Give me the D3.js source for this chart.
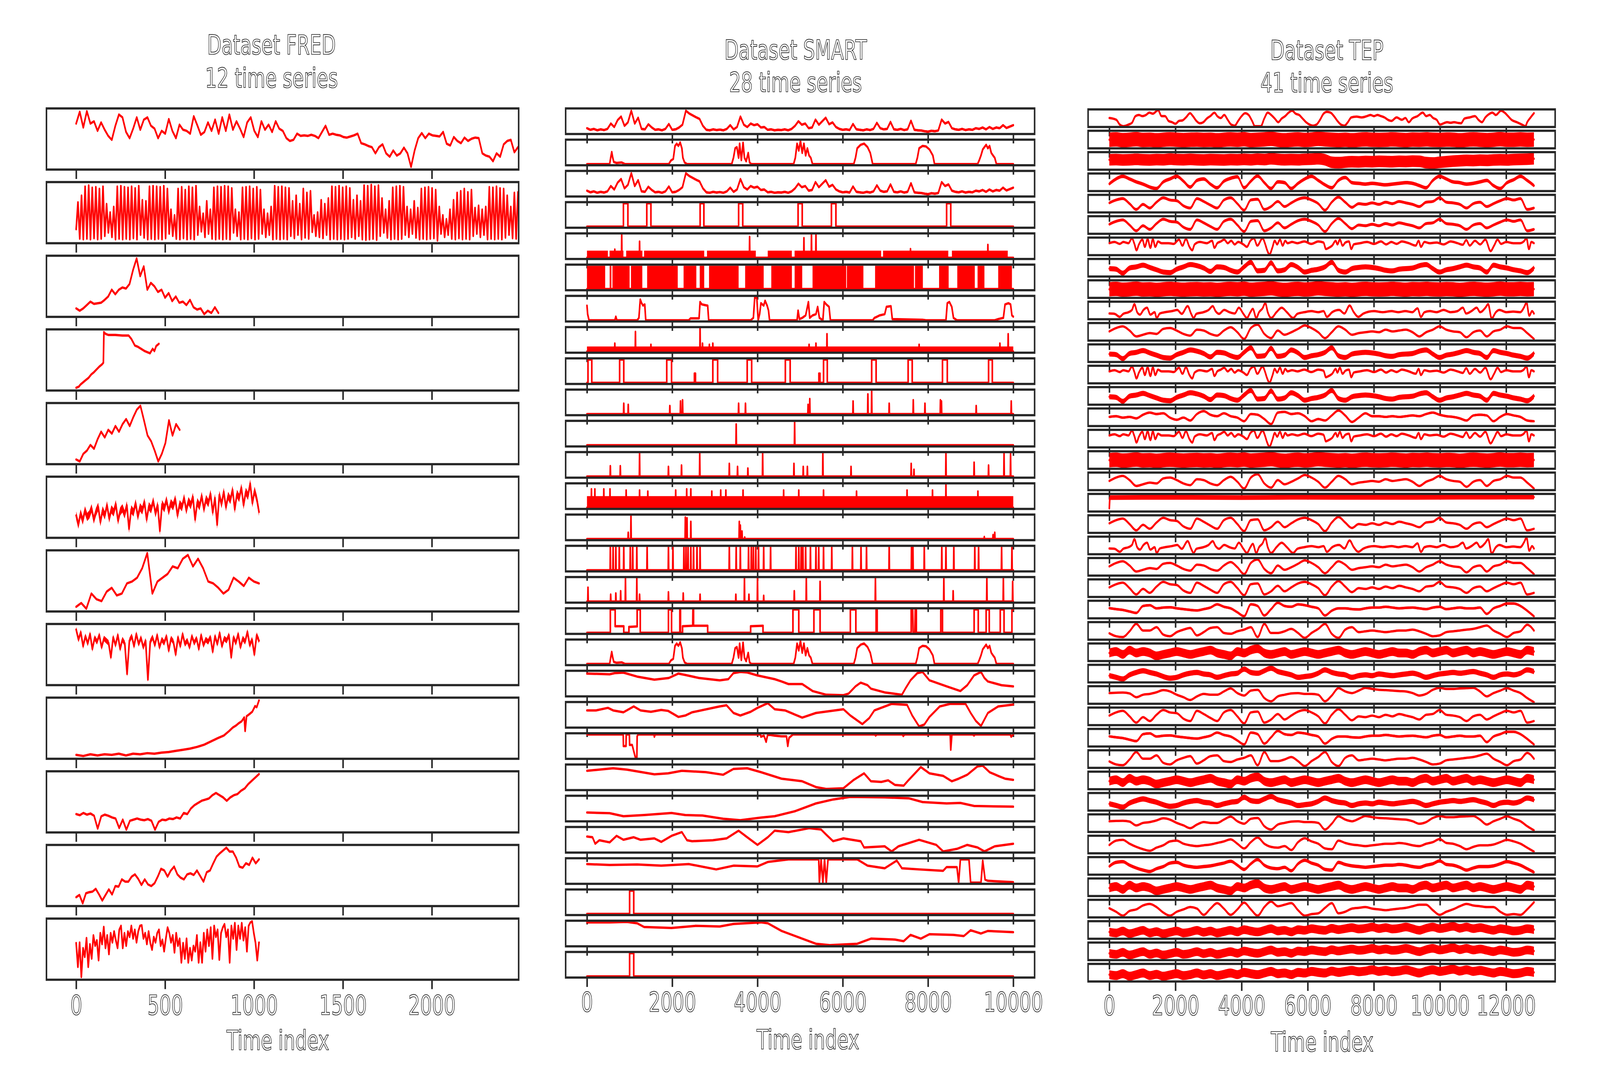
<!DOCTYPE html>
<html>
<head>
<meta charset="utf-8">
<script src="https://cdn.jsdelivr.net/npm/d3@7"></script>
<style>
  html, body { margin: 0; padding: 0; background: #fff; overflow: hidden; width: 100%; height: 100%; }
  #chart { display: block; width: 100vw; height: 100vh; }
</style>
</head>
<body>
<svg id="chart"></svg>
<script>
// ---------- data ----------
var panelNames = ["FRED", "SMART", "TEP"];
var fredTicks = [0, 500, 1000, 1500, 2000];
var smartTicks = [0, 2000, 4000, 6000, 8000, 10000];
var tepTicks = [0, 2000, 4000, 6000, 8000, 10000, 12000];
var fredXLim = [-167, 2488];
var smartXLim = [-500, 10500];
var tepXLim = [-642, 13482];
var smartLength = 10000;
var tepLength = 12840;

// FRED: uniform samples over each series length (or [t, v] pairs)
var fred1 = [77,98,70,99,77,81,64,79,66,55,48,73,93,88,62,51,68,88,66,84,88,73,68,51,64,59,85,64,51,75,
  66,64,59,90,74,57,62,79,64,84,59,88,64,93,66,81,68,53,79,88,64,53,81,66,75,62,81,68,64,51,
  46,48,59,55,56,55,57,55,51,62,73,57,59,57,56,53,52,54,56,59,42,40,37,35,24,35,40,24,18,29,
  20,24,34,24,0,29,51,60,51,59,56,55,54,62,41,38,53,46,42,52,46,50,52,51,24,20,18,10,24,18,
  40,46,48,26,35];
var fred2 = [20,68,3,80,2,96,3,98,2,94,4,95,2,92,3,96,8,65,14,50,6,60,2,96,3,97,2,95,3,94,2,96,4,93,2,97,
  10,72,5,70,2,96,3,97,2,96,3,95,2,97,4,92,12,55,8,45,3,92,2,95,4,90,2,96,3,94,2,97,10,60,16,48,
  6,70,12,55,3,94,2,96,3,95,2,97,3,96,2,93,14,55,8,50,2,94,3,95,2,96,4,92,2,95,3,90,12,55,6,48,
  10,60,2,97,3,95,2,96,3,94,2,93,8,70,4,80,10,65,2,92,5,85,3,88,15,45,8,50,6,72,4,65,10,75,2,96,
  3,95,2,97,3,94,2,96,3,93,6,72,3,80,8,70,2,98,1,97,2,99,3,96,1,98,8,75,14,55,5,70,2,94,3,96,
  2,97,3,95,10,60,6,55,12,70,5,58,2,92,3,94,2,95,3,93,4,90,0,60,12,45,6,38,10,55,3,72,2,85,
  4,88,2,92,3,86,2,90,8,58,12,62,6,55,10,60,2,95,3,94,2,96,3,93,2,92,5,80,10,60,4,85,3,86];
var fred3 = [12,8,12,18,24,20,21,22,27,33,45,37,45,49,47,55,80,100,69,86,45,57,51,41,45,31,39,25,33,22,
  24,18,27,14,10,12,2,8,4,14,4];
var fred4 = [[0,0],[15,2],[25,6],[40,10],[55,14],[70,18],[85,24],[100,28],[115,33],[130,38],[145,42],
  [153,45],[156,100],[165,97],[180,95],[220,95],[260,94],[295,94],[310,88],[330,76],[345,74],[365,70],
  [385,66],[400,64],[415,62],[430,70],[440,66],[450,75],[465,79]];
var fred5 = [12,9,21,26,35,29,44,56,47,59,53,65,56,68,76,65,79,91,97,74,50,41,26,9,21,38,74,50,68,59];
var fred6 = [38,20,42,28,48,35,40,52,30,45,55,25,48,38,58,32,50,44,60,28,46,52,40,58,12,50,44,62,36,54,
  48,64,30,56,50,66,42,58,8,60,52,68,46,62,56,70,38,60,54,72,48,66,58,74,30,64,56,76,50,70,
  62,80,44,72,20,78,60,84,54,76,68,88,50,80,72,92,58,84,76,100,62,86,70,45];
var fred7 = [15,21,12,36,27,24,39,45,33,36,52,55,61,76,100,36,55,61,67,79,76,91,97,79,91,76,55,52,45,36,
  42,61,55,48,61,55,52];
var fred8 = [90,72,85,60,78,65,82,55,75,68,80,58,74,70,66,40,76,62,80,55,72,65,10,70,78,60,82,64,75,58,
  70,0,68,76,62,80,58,72,66,78,52,74,68,45,76,60,82,64,70,58,78,66,74,55,80,62,72,68,76,50,
  78,64,84,60,74,70,80,40,76,66,82,58,74,68,86,62,72,45,80,70];
var fred9 = [[0,4],[40,2],[80,5],[120,3],[160,5],[200,4],[240,6],[280,3],[320,6],[360,5],[400,7],[440,6],
  [480,8],[520,9],[560,11],[600,13],[640,15],[680,18],[720,22],[760,28],[800,34],[830,38],[860,46],
  [880,52],[900,56],[915,60],[930,63],[945,70],[950,46],[958,72],[975,76],[990,80],[1006,90],[1015,88],[1028,100]];
var fred10 = [28,26,30,27,29,25,2,24,27,25,22,20,3,18,0,16,18,20,18,17,19,16,0,14,18,17,20,19,22,20,
  30,28,38,44,48,52,54,56,62,66,62,58,52,58,62,64,70,74,82,88,94,100];
var fred11 = [11,15,0,18,20,21,26,16,5,15,25,16,31,30,43,39,39,48,52,44,33,43,34,31,36,48,62,59,48,59,
  66,52,46,43,52,54,51,59,49,39,56,59,72,84,90,95,100,93,93,82,66,64,72,69,82,72,79];
var fred12 = [61,18,62,0,52,36,70,18,59,33,75,56,66,30,79,59,90,52,75,41,79,62,82,66,52,85,92,52,79,56,
  82,72,92,69,85,62,82,92,93,69,79,59,82,61,49,72,62,79,85,56,67,46,69,89,79,62,75,44,79,56,
  69,26,61,33,69,26,52,30,56,46,75,26,62,26,79,46,85,56,89,33,92,72,85,31,79,89,95,72,85,26,
  92,69,97,49,92,69,97,66,89,46,92,98,100,79,61,30,62];
var fredSeries = [fred1, fred2, fred3, fred4, fred5, fred6, fred7, fred8, fred9, fred10, fred11, fred12];
var fredLength = [2484, 2484, 800, 465, 582, 1028, 1028, 1028, 1028, 1028, 1028, 1028];
var fredNoise = [0, 0, 0, 0, 0, 8, 0, 5, 0, 0, 0, 0];

// SMART
var smart1 = [25,18,22,16,20,17,22,45,30,60,75,35,50,100,45,70,22,20,42,28,18,20,16,22,43,18,20,28,40,100,
  88,80,72,65,35,18,16,20,17,19,16,22,38,20,30,75,40,30,45,38,42,28,30,18,20,16,18,17,20,16,
  22,35,55,40,45,25,28,62,40,55,70,42,50,30,22,18,20,17,43,20,18,16,20,17,22,48,25,20,22,52,
  20,18,22,17,20,57,18,16,15,12,10,14,12,15,62,45,52,25,20,18,22,17,20,18,25,22,28,20,30,22,
  28,25,38,26,32,38];
var smart2 = [[0,0],[532,0],[556,0.27],[581,0.52],[605,0.27],[629,0.09],[694,0.05],[815,0.07],[895,0],
  [1919,0],[1968,0.15],[2024,0.22],[2065,0.78],[2105,0.88],[2145,0.78],[2186,0.93],[2226,0.68],[2250,0.27],
  [2290,0.07],[2347,0],[3395,0],[3436,0.27],[3476,0.68],[3516,0.73],[3557,0.27],[3581,0.88],[3621,0.17],
  [3661,0.92],[3694,0.27],[3734,0.12],[3782,0.48],[3815,0.07],[3855,0],[4847,0],[4887,0.27],[4928,0.88],
  [4968,0.58],[5008,1],[5049,0.48],[5089,0.88],[5129,0.37],[5170,0.68],[5210,0.37],[5250,0.27],[5291,0],
  [6258,0],[6299,0.27],[6339,0.68],[6420,0.83],[6500,0.88],[6581,0.73],[6645,0.48],[6702,0],[7710,0],
  [7750,0.27],[7791,0.68],[7871,0.78],[7952,0.76],[8033,0.63],[8113,0.37],[8153,0],[9162,0],[9202,0.17],
  [9242,0.37],[9283,0.63],[9323,0.73],[9363,0.83],[9404,0.68],[9444,0.78],[9484,0.48],[9525,0.37],
  [9565,0.27],[9605,0],[10000,0]];
var smart4 = [[855,960,1],[1403,1500,1],[2654,2742,1],[3557,3654,1],[4952,5049,1],[5734,5839,1],[8436,8533,1]];
var smart5Blocks = [[0,490],[530,855],[920,1300],[1340,2750],[2815,3960],[4240,4805],[4870,6900],[6945,8475],[8560,9870]];
var smart5Spikes = [[653,0.36],[815,1],[1234,0.7],[3815,0.9],[5089,0.85],[5266,1],[5371,1],[7589,0.38],[9404,0.56]];
var smart6Blocks = [[0,427],[532,573],[597,1000],[1032,1298],[1411,2129],[2266,2565],[2645,2750],[2863,3557],
  [3710,4145],[4323,4807],[4871,5049],[5291,6081],[6097,6484],[6758,7670],[7694,7879],[8259,8484],
  [8686,9097],[9162,9323],[9646,9968]];
var smart7 = [[0,0.65],[16,0.3],[48,0.05],[653,0.05],[677,0.2],[702,0.05],[1177,0.05],[1218,0.15],[1250,0.9],
  [1282,0.75],[1315,0.65],[1355,0.7],[1379,0.05],[2387,0.05],[2428,0.13],[2629,0.13],[2653,0.8],[2694,0.7],
  [2774,0.67],[2831,0.65],[2855,0.05],[3839,0.05],[3903,0.15],[3936,1],[3984,0.95],[4016,0.05],[4049,0.3],
  [4081,0.75],[4145,0.65],[4178,0.85],[4226,0.65],[4258,0.45],[4283,0.05],[4928,0.05],[4952,0.45],[4984,0.1],
  [5049,0.15],[5129,0.25],[5194,0.8],[5226,0.15],[5291,0.25],[5371,0.3],[5411,0.6],[5452,0.15],[5533,0.05],
  [5565,0.8],[5613,0.7],[5678,0.6],[5710,0.05],[6702,0.05],[6742,0.15],[6807,0.2],[6863,0.25],[6984,0.3],
  [7025,0.6],[7129,0.63],[7162,0.1],[7871,0.07],[7952,0.05],[8420,0.05],[8452,0.75],[8500,0.8],[8557,0.6],
  [8597,0.15],[8678,0.05],[9565,0.05],[9646,0.1],[9767,0.15],[9807,0.7],[9888,0.75],[9936,0.7],[9968,0.25],[10000,0.2]];
var smart8Spikes = [[653,0.35],[1137,0.85],[1500,0.3],[2653,1],[2710,0.35],[2871,0.3],[2952,0.35],[5210,0.3],
  [5371,0.35],[5630,0.75],[7791,0.3],[9686,0.35],[9880,0.75]];
var smart9 = [[24,113,1],[766,863,1],[1871,1984,1],[2520,2545,0.4],[2952,3065,1],[3758,3863,1],[4653,4766,1],
  [5440,5465,0.4],[5549,5637,1],[6678,6782,1],[7533,7629,1],[8339,8452,1],[9420,9508,1]];
var smart10 = [[863,0.45],[968,0.4],[1944,0.35],[2194,0.55],[2242,0.6],[3557,0.45],[3718,0.45],[5186,0.4],
  [5226,0.65],[6242,0.55],[6589,0.85],[6678,1],[7089,0.45],[7654,0.6],[7928,0.45],[8291,0.6],[8315,0.55],
  [9130,0.35],[9952,0.55]];
var smart11 = [[3500,0.9],[4871,1]];
var smart12 = [[548,0.45],[782,0.45],[1234,1],[1911,0.42],[2218,0.48],[2645,1],[3339,0.55],[3532,0.42],
  [3774,0.35],[4121,1],[4855,0.55],[5073,0.42],[5170,0.42],[5533,1],[6194,0.42],[7605,0.55],[7670,0.3],
  [8420,1],[9081,0.6],[9420,0.48],[9783,1],[9936,1]];
var smart13Spikes = [[105,0.8],[185,0.8],[395,0.8],[540,0.8],[919,0.75],[1234,0.75],[1427,0.7],[2081,0.75],
  [2339,0.8],[2436,0.8],[2928,0.7],[3137,0.75],[3258,0.75],[3661,0.75],[4613,0.75],[4968,0.75],[5549,0.75],
  [6323,0.7],[7508,0.75],[8105,0.75],[8420,1],[9170,0.7]];
var smart14 = [[968,0.3],[1032,1],[2307,0.93],[2347,0.9],[2436,0.75],[3573,0.75],[3597,0.6],[3637,0.35],
  [3700,0.1],[9320,0.12],[9525,0.2],[9565,0.3]];
var smart15 = [[548,1],[613,1],[677,1],[758,1],[863,1],[1016,1],[1073,1],[1169,1],[1411,1],[1911,1],[2016,1],
  [2274,1],[2323,1],[2371,1],[2436,1],[2500,1],[2581,1],[2653,1],[3339,1],[3500,1],[3597,1],[3790,1],
  [3855,1],[3903,1],[3960,1],[4024,1],[4145,1],[4307,1],[4903,1],[4968,1],[5024,1],[5065,1],[5129,1],
  [5242,1],[5371,1],[5436,1],[5549,1],[5742,1],[6226,1],[6428,1],[6557,1],[7089,1],[7613,1],[7646,1],
  [7912,1],[8323,1],[8420,1],[8605,1],[9097,1],[9186,1],[9726,1],[9968,1]];
var smart16 = [[24,0.6],[556,0.3],[677,0.35],[790,0.45],[903,1],[1169,1],[1234,0.3],[1911,0.4],[2258,0.35],
  [2653,0.3],[3492,0.3],[3694,1],[3799,0.3],[4000,1],[4145,0.25],[4863,0.45],[5145,1],[5468,0.85],[6766,1],
  [8371,1],[8589,0.45],[9380,1],[9767,1],[9985,0.85]];
var smart17 = [[0,0],[548,0],[548,1],[661,1],[661,0.28],[863,0.28],[863,0],[984,0],[984,0.25],[1177,0.27],
  [1177,1],[1250,1],[1250,0],[1911,0],[1911,1],[1984,1],[1984,0],[2178,0],[2178,1],[2194,1],[2194,0],
  [2242,0],[2242,0.28],[2480,0.3],[2485,1],[2500,1],[2500,0.3],[2831,0.3],[2831,0],[3839,0],[3839,0.28],
  [4129,0.3],[4129,0],[4831,0],[4831,1],[4968,1],[4968,0],[5323,0],[5323,1],[5468,1],[5468,0],[6178,0],
  [6178,1],[6307,1],[6307,0],[6782,0],[6782,1],[6807,1],[6807,0],[7605,0],[7605,1],[7640,1],[7650,0],
  [7690,0],[7700,1],[7726,1],[7726,0],[8299,0],[8299,1],[8339,1],[8339,0],[9081,0],[9081,1],[9178,1],
  [9178,0],[9363,0],[9363,1],[9436,1],[9436,0],[9694,0],[9694,1],[9783,1],[9783,0],[9968,0],[9968,1],[10000,1]];
var smart19 = [[0,0.93],[532,0.9],[653,0.95],[855,0.97],[1177,0.8],[1581,0.67],[1919,0.74],[2145,0.93],
  [2307,0.87],[2629,0.74],[3113,0.64],[3315,0.69],[3436,0.95],[3597,1],[3758,0.98],[4000,0.85],[4403,0.69],
  [4565,0.59],[4726,0.48],[5049,0.48],[5291,0.18],[5613,0.02],[6016,0],[6137,0.07],[6299,0.38],[6420,0.54],
  [6581,0.43],[6662,0.28],[6984,0.12],[7387,0.02],[7484,0.33],[7589,0.64],[7750,0.95],[7871,1],[8033,0.64],
  [8436,0.38],[8759,0.18],[8920,0.43],[9081,0.85],[9242,1],[9323,0.74],[9404,0.59],[9726,0.43],[10000,0.38]];
var smart20 = [[0,0.69],[210,0.69],[492,0.8],[613,0.69],[855,0.61],[1097,0.86],[1258,0.69],[1500,0.63],
  [1742,0.71],[1903,0.67],[2145,0.41],[2307,0.47],[2468,0.61],[3113,0.86],[3274,0.91],[3436,0.58],[3597,0.47],
  [3839,0.63],[4000,0.8],[4242,1],[4403,0.74],[4645,0.69],[5049,0.38],[5371,0.58],[6016,0.74],[6178,0.47],
  [6460,0.1],[6621,0.36],[6742,0.69],[7146,0.97],[7508,0.93],[7629,0.47],[7791,0],[7912,0.08],[8033,0.41],
  [8275,0.86],[8517,0.97],[8880,0.97],[9000,0.58],[9121,0.24],[9242,0.02],[9404,0.58],[9646,0.86],[10000,0.94]];
var smart21 = [[0,1],[850,1],[855,0.5],[915,0.5],[920,1],[995,1],[1000,0.55],[1060,0.55],[1097,0.28],[1137,0],
  [1170,0],[1177,0.92],[1200,1],[1570,1],[1581,0.9],[1600,1],[4070,1],[4081,0.9],[4150,0.95],[4202,0.68],
  [4240,1],[4400,0.95],[4560,0.92],[4680,0.92],[4710,0.5],[4740,0.85],[4800,0.95],[4830,1],[6750,1],
  [6770,0.95],[6800,1],[7400,1],[7420,0.93],[7450,1],[8520,1],[8533,0.34],[8560,1],[9050,1],[9080,0.95],
  [9100,1],[9930,1],[9950,0.9],[10000,1]];
var smart22 = [[0,0.78],[613,0.89],[935,0.83],[1581,0.63],[1903,0.67],[2226,0.78],[2790,0.72],[3194,0.61],
  [3436,0.86],[3758,0.89],[4081,0.72],[4565,0.44],[5049,0.33],[5371,0.08],[5613,0],[6016,0.03],[6258,0.39],
  [6500,0.67],[6662,0.33],[6904,0.3],[7065,0.37],[7226,0.17],[7428,0.14],[7549,0.39],[7831,0.94],[8033,0.67],
  [8355,0.56],[8557,0.33],[8718,0.44],[8920,0.61],[9162,0.97],[9283,1],[9444,0.72],[9646,0.56],[9807,0.44],[10000,0.39]];
var smart23 = [[0,0.33],[532,0.3],[855,0.17],[1339,0.22],[1984,0.31],[2307,0.22],[2710,0.2],[3194,0.06],
  [3597,0],[4081,0.11],[4403,0.17],[4887,0.39],[5371,0.72],[5774,0.89],[6178,1],[6984,0.98],[7549,0.94],
  [7871,0.78],[8436,0.72],[8759,0.74],[9081,0.61],[10000,0.58]];
var smart24 = [[0,0.64],[129,0.61],[194,0.33],[290,0.48],[532,0.39],[694,0.67],[855,0.5],[1097,0.61],
  [1258,0.5],[1581,0.56],[1742,0.41],[1984,0.67],[2226,0.83],[2347,0.48],[2468,0.44],[2952,0.48],[3274,0.56],
  [3557,0.89],[3758,0.61],[4000,0.28],[4242,0.61],[4403,0.89],[4726,0.83],[5049,0.94],[5210,1],[5492,0.94],
  [5613,0.72],[5774,0.44],[6016,0.56],[6420,0.44],[6500,0.17],[6984,0.22],[7146,0],[7307,0.22],[7791,0.5],
  [8194,0.28],[8355,0],[8678,0.11],[8920,0.28],[9162,0.17],[9323,0],[9565,0.22],[10000,0.33]];
var smart25 = [[0,0.8],[532,0.76],[1177,0.78],[1742,0.73],[2387,0.8],[3032,0.57],[3436,0.73],[4000,0.7],
  [4242,0.89],[4726,1],[5436,1],[5452,0],[5492,1],[5533,0],[5573,1],[5613,0],[5654,1],[6339,1],[6581,0.73],
  [6984,0.62],[7267,0.95],[7387,0.62],[7791,0.57],[8355,0.51],[8436,0.67],[8678,0.67],[8718,0],[8759,1],
  [8960,1],[9000,0],[9242,0],[9283,0.95],[9339,0.13],[9404,0.08],[10000,0.02]];
var smart26 = [[1000,1097,1]];
var smart27 = [[0,0.98],[532,0.98],[935,1],[1177,0.94],[1339,0.78],[1984,0.74],[2549,0.83],[3113,0.8],
  [3436,0.91],[4081,0.98],[4242,0.94],[4565,0.61],[5049,0.28],[5371,0.06],[5694,0],[6339,0.06],[6662,0.28],
  [7226,0.24],[7428,0.17],[7589,0.44],[7831,0.28],[8033,0.47],[8597,0.44],[8839,0.39],[9000,0.64],[9242,0.5],
  [9404,0.61],[10000,0.56]];

var smartRows = [
  {v: smart1, w: 5}, {p: smart2}, {v: smart1, w: 5}, {pulses: smart4},
  {blocks: smart5Blocks, lo: 0, hi: 0.31, spikes: smart5Spikes},
  {blocks: smart6Blocks, lo: 0, hi: 1, spikes: []},
  {p: smart7},
  {blocks: [[0, 10000]], lo: 0.03, hi: 0.22, spikes: smart8Spikes},
  {pulses: smart9}, {spikes: smart10}, {spikes: smart11}, {spikes: smart12},
  {blocks: [[0, 10000]], lo: 0, hi: 0.5, spikes: smart13Spikes},
  {spikes: smart14, base: 0.03}, {spikes: smart15}, {spikes: smart16},
  {p: smart17}, {p: smart2}, {p: smart19}, {p: smart20}, {p: smart21}, {p: smart22},
  {p: smart23}, {p: smart24}, {p: smart25}, {pulses: smart26}, {p: smart27}, {pulses: smart26}
];

// TEP: shapes (pairs or 64 uniform samples) and the half-thickness of the noise band
var tepA = [[0,0.51],[211,0.4],[316,0.1],[421,0],[579,0.1],[684,0.21],[790,0.63],[895,0.7],[1000,0.63],[1106,0.7],
  [1211,0.85],[1316,0.78],[1474,1],[1580,0.63],[1685,0.63],[1790,0.33],[1895,0.25],[2001,0.15],[2106,0.33],
  [2211,0.36],[2317,0.55],[2443,0.81],[2527,0.63],[2633,0.33],[2738,0.18],[2843,0.25],[2948,0.48],[3054,0.63],
  [3180,0.84],[3264,0.63],[3370,0.51],[3475,0.7],[3580,0.4],[3686,0.1],[3791,0.03],[3896,0.33],[4001,0.63],
  [4107,0.81],[4212,0.7],[4317,0.33],[4402,0],[4581,0],[4686,0.48],[4791,0.85],[4896,0.7],[5002,0.48],
  [5107,0.25],[5212,0.48],[5318,0.63],[5423,0.85],[5528,0.97],[5634,0.78],[5739,0.7],[5844,0.48],[5949,0.25],
  [6055,0.1],[6160,0.03],[6265,0.1],[6371,0.4],[6476,0.78],[6581,0.9],[6687,0.85],[6792,0.63],[6897,0.33],
  [7002,0.1],[7108,0.03],[7213,0.25],[7318,0.55],[7476,0.6],[7634,0.55],[7792,0.63],[7898,0.7],[8003,0.63],
  [8108,0.7],[8213,0.63],[8319,0.55],[8424,0.4],[8529,0.33],[8687,0.55],[8845,0.4],[8951,0.51],[9056,0.25],
  [9161,0.48],[9319,0.63],[9477,0.85],[9582,0.63],[9688,0.7],[9793,0.51],[9898,0.4],[10004,0.1],[10109,0.18],
  [10214,0.25],[10319,0.21],[10425,0.25],[10530,0.21],[10635,0.18],[10741,0.48],[10899,0.55],[11057,0.63],
  [11162,0.4],[11267,0.25],[11372,0.55],[11478,0.75],[11583,0.85],[11688,0.7],[11846,0.97],[11952,0.85],
  [12057,0.63],[12162,0.4],[12320,0.25],[12478,0.1],[12583,0],[12636,0.25],[12741,0.55],[12840,0.81]];
var tepQ = [[0,0.65],[158,0.72],[316,0.61],[421,0.72],[579,0.65],[684,0.93],[758,0.61],[821,0.24],[895,0.58],
  [1000,0.86],[1074,0.44],[1158,0.89],[1243,0.38],[1316,0.89],[1390,0.44],[1474,0.75],[1580,0.65],[1790,0.65],
  [1948,0.61],[2106,0.86],[2211,0.51],[2317,0.89],[2422,0.44],[2506,0.24],[2580,0.58],[2738,0.72],[2948,0.65],
  [3106,0.79],[3180,0.38],[3264,0.65],[3370,0.75],[3475,0.86],[3580,0.65],[3686,0.79],[3791,0.58],[3896,0.72],
  [4054,0.58],[4159,0.44],[4265,0.79],[4370,0.93],[4475,0.51],[4633,0.93],[4717,0.58],[4760,0.31],[4844,0],
  [4928,0.38],[5002,0.79],[5075,0.58],[5160,0.86],[5244,0.51],[5318,0.79],[5391,0.65],[5528,0.72],[5686,0.65],
  [5897,0.75],[6107,0.61],[6318,0.75],[6476,0.69],[6550,0.31],[6634,0.38],[6739,0.51],[6845,0.79],[6897,0.58],
  [6971,0.86],[7055,0.51],[7139,0.69],[7245,0.75],[7318,0.31],[7392,0.58],[7582,0.65],[7792,0.72],[8003,0.61],
  [8213,0.75],[8371,0.58],[8529,0.72],[8687,0.61],[8845,0.75],[9056,0.65],[9266,0.51],[9351,0.79],[9424,0.44],
  [9530,0.72],[9688,0.65],[9898,0.69],[10109,0.58],[10319,0.75],[10530,0.65],[10688,0.56],[10793,0.83],
  [10899,0.51],[11057,0.79],[11214,0.58],[11372,0.86],[11530,0.19],[11636,0.51],[11741,0.86],[11846,0.61],
  [12004,0.72],[12215,0.65],[12425,0.65],[12531,0.75],[12615,0.93],[12689,0.31],[12762,0.72],[12840,0.65]];
var tepR = [[0,0.31],[158,0.29],[316,0.1],[421,0.29],[579,0.39],[684,0.53],[758,0.89],[842,0.39],[927,0.24],
  [1032,0.53],[1137,0.67],[1243,0.24],[1369,0.39],[1432,0.03],[1527,0.31],[1685,0.39],[1895,0.46],[2053,0.53],
  [2190,0.29],[2369,0.77],[2475,0.29],[2548,0.03],[2633,0.29],[2843,0.39],[3001,0.53],[3127,0.77],[3212,0.46],
  [3317,0.29],[3475,0.53],[3633,0.39],[3791,0.31],[3917,0.67],[4054,0.29],[4159,0.03],[4265,0.39],[4338,0.6],
  [4444,0.03],[4528,0.39],[4633,0.63],[4717,0.96],[4791,0.39],[4896,0.03],[5054,0.39],[5212,0.67],[5370,0.39],
  [5560,0.03],[5686,0.29],[5897,0.39],[6107,0.46],[6318,0.39],[6476,0.46],[6581,0.1],[6739,0.39],[6950,0.53],
  [7108,0.31],[7266,0.81],[7392,0.39],[7529,0.1],[7687,0.31],[8003,0.46],[8266,0.39],[8529,0.46],[8740,0.39],
  [8951,0.46],[9161,0.39],[9319,0.63],[9424,0.1],[9530,0.39],[9688,0.46],[9898,0.39],[10109,0.53],[10319,0.39],
  [10530,0.46],[10688,0.67],[10793,0.31],[10951,0.46],[11109,0.67],[11214,0.39],[11372,0.67],[11456,0.89],
  [11562,0],[11688,0.39],[11794,0.53],[12004,0.39],[12215,0.43],[12425,0.39],[12552,0.74],[12615,1],[12699,0.17],
  [12783,0.46],[12840,0.31]];
var tepF = [[0,0.15],[20,0.84],[2000,0.85],[4000,0.84],[6000,0.86],[8000,0.85],[10000,0.86],[12840,0.87]];
var tepP = [0.55,0.75,0.85,0.5,0.1,0.45,0.2,0.6,0.9,0.75,0.7,0.35,0.2,0.85,0.65,0.4,
  0.2,0.75,0.9,0.5,0.05,0.75,0.8,0.1,0.3,0.65,0.3,0.55,0.8,0.9,0.75,0.5,
  0.05,0.6,0.95,0.6,0.25,0.5,0.45,0.55,0.45,0.6,0.5,0.65,0.55,0.45,0.3,0.6,
  0.65,0.9,0.6,0.55,0.45,0.2,0.5,0.6,0.3,0.5,0.7,0.85,0.75,0.85,0.1,0.2];
var tepS = [0.5,0.7,0.8,0.55,0.2,0.3,0.4,0.35,0.65,0.7,0.55,0.35,0.25,0.6,0.55,0.35,
  0.25,0.55,0.75,0.45,0.05,0.7,0.9,0.35,0.1,0.55,0.3,0.45,0.65,0.85,0.7,0.45,
  0.1,0.45,0.8,0.6,0.3,0.4,0.45,0.5,0.45,0.6,0.5,0.55,0.6,0.45,0.2,0.45,
  0.6,0.8,0.6,0.5,0.45,0.15,0.45,0.55,0.2,0.5,0.6,0.8,0.7,0.7,0.4,0.05];
var tepB = [0.37,0.7,0.88,0.7,0.5,0.35,0.15,0.05,0.5,0.7,0.88,0.55,0.15,0.6,0.7,0.35,
  0.1,0.55,0.75,0.85,0.1,0.55,0.9,0.45,0.05,0.5,0.45,0.05,0.4,0.7,0.88,0.6,
  0.3,0.1,0.6,0.8,0.45,0.4,0.35,0.4,0.35,0.3,0.35,0.4,0.45,0.4,0.25,0.1,
  0.6,0.88,0.7,0.5,0.45,0.35,0.4,0.5,0.6,0.25,0.05,0.45,0.65,0.88,0.6,0.25];
var tepBT = [0.45,0.4,0.05,0.5,0.6,0.75,0.55,0.35,0.15,0.1,0.4,0.6,0.8,0.7,0.5,0.2,
  0.6,0.55,0.3,0.15,0.6,1,0.25,0.3,0.95,0.25,0.35,0.8,0.55,0.15,0.3,0.4,
  0.6,1,0.3,0.15,0.45,0.55,0.6,0.55,0.45,0.3,0.25,0.4,0.45,0.5,0.7,0.8,
  0.45,0.15,0.35,0.45,0.6,0.75,0.6,0.5,0.15,0.75,0.6,0.5,0.35,0.25,0.1,0.5];
var tepT = [0.5,0.55,0.45,0.5,0.4,0.65,0.8,0.7,0.75,0.45,0.3,0.45,0.25,0.7,0.9,0.65,
  0.55,0.75,0.55,0.45,0.2,0.7,0.65,0.35,0,0.8,0.85,0.7,0.75,0.55,0.2,0.35,
  0.25,0.6,0.95,0.6,0.15,0.45,0.75,0.55,0.55,0.5,0.55,0.5,0.55,0.6,0.55,0.7,
  0.8,0.65,0.55,0.5,0.4,0.25,0.6,0.65,0.6,0.2,0.5,0.7,0.6,0.5,0.25,0.2];
var tepT2 = [0.42,0.7,0.75,0.5,0.3,0.15,0.05,0.25,0.4,0.65,0.7,0.5,0.4,0.35,0.4,0.45,
  0.55,0.65,0.78,0.5,0.2,0.6,0.9,0.5,0.3,0.25,0.35,0.1,0.6,0.85,0.65,0.5,
  0.2,0.15,0.7,0.55,0.45,0.4,0.35,0.4,0.45,0.5,0.5,0.55,0.5,0.4,0.35,0.5,
  0.6,0.8,0.55,0.5,0.35,0.15,0.3,0.4,0.4,0.45,0.6,0.75,0.65,0.5,0.25,0];
var tepU = [0.56,0.5,0.45,0.35,0.26,0.7,0.75,0.55,0.6,0.62,0.55,0.5,0.45,0.42,0.5,0.6,
  0.8,0.65,0.55,0.3,0.05,0.8,0.7,0.1,0.5,0.9,0.7,0.65,0.8,0.75,0.65,0.55,
  0.1,0.4,0.55,0.55,0.5,0.48,0.55,0.6,0.6,0.65,0.6,0.55,0.58,0.6,0.55,0.5,
  0.6,0.65,0.5,0.55,0.6,0.55,0.55,0.6,0.2,0.55,0.7,0.85,0.85,0.7,0.4,0.05];
var tepV = [0.33,0.15,0.1,0.45,0.9,0.5,0.5,0.7,0.25,0.15,0.4,0.55,0.65,0.2,0.4,0.65,
  0.7,0.35,0.3,0.45,0.55,0.7,0.1,0.9,0.35,0.35,0.45,0.6,0.35,0.05,0.35,0.6,
  0.9,0.3,0.05,0.55,0.7,0.4,0.45,0.5,0.45,0.4,0.45,0.5,0.5,0.55,0.45,0.3,
  0.15,0.2,0.4,0.45,0.5,0.55,0.6,0.7,0.8,0.5,0.3,0.1,0.35,0.45,0.85,0.5];
var tepG = [0.52,0.3,0.05,0.35,0.45,0.7,0.8,0.6,0.25,0.05,0.3,0.45,0.6,0.5,0.1,0.5,
  0.85,0.5,0.1,0.45,0.88,0.45,0.05,0.6,0.95,0.65,0.75,0.85,0.4,0.05,0.15,0.2,
  0.55,0.85,0.2,0.3,0.5,0.55,0.6,0.5,0.45,0.4,0.45,0.5,0.55,0.65,0.75,0.75,
  0.4,0.1,0.3,0.45,0.65,0.8,0.7,0.65,0.6,0.6,0.3,0.1,0.15,0.1,0.45,0.9];
var tepY = [0.6,0.62,0.63,0.58,0.35,0.5,0.55,0.65,0.78,0.7,0.5,0.35,0.18,0.4,0.55,0.5,
  0.5,0.7,0.88,0.6,0.45,0.75,0.8,0.3,0.1,0.4,0.5,0.58,0.6,0.55,0.55,0.5,
  0.1,0.45,0.9,0.7,0.6,0.75,0.92,0.85,0.8,0.78,0.75,0.72,0.7,0.6,0.45,0.55,
  0.8,0.92,0.85,0.85,0.88,0.9,0.92,0.7,0.4,0.6,0.75,0.9,0.75,0.6,0.3,0.05];
var tepX = [0.4,0.3,0.2,0.45,0.6,0.7,0.6,0.5,0.35,0.25,0.3,0.45,0.55,0.6,0.5,0.45,
  0.3,0.4,0.5,0.55,0.8,0.6,0.55,0.7,0.85,0.65,0.55,0.45,0.3,0.35,0.4,0.55,
  0.75,0.6,0.5,0.45,0.3,0.4,0.45,0.4,0.5,0.45,0.4,0.45,0.5,0.55,0.45,0.3,
  0.4,0.5,0.55,0.6,0.55,0.6,0.65,0.55,0.45,0.3,0.45,0.5,0.45,0.55,0.75,0.65];
var tepZ1 = [0.5,0.55,0.45,0.6,0.5,0.55,0.5,0.4,0.45,0.5,0.55,0.5,0.45,0.5,0.55,0.6,
  0.5,0.45,0.4,0.55,0.5,0.6,0.65,0.5,0.45,0.5,0.55,0.45,0.5,0.55,0.5,0.45,
  0.5,0.55,0.6,0.5,0.45,0.5,0.55,0.5,0.45,0.5,0.55,0.5,0.5,0.45,0.55,0.6,
  0.5,0.55,0.6,0.5,0.55,0.6,0.5,0.55,0.5,0.45,0.5,0.55,0.5,0.45,0.6,0.55];
var tepZ2 = [0.45,0.42,0.48,0.4,0.45,0.5,0.42,0.46,0.4,0.44,0.48,0.42,0.45,0.5,0.44,0.48,
  0.42,0.46,0.5,0.45,0.52,0.48,0.45,0.5,0.55,0.48,0.5,0.45,0.52,0.5,0.55,0.52,
  0.5,0.56,0.52,0.55,0.58,0.54,0.56,0.6,0.55,0.58,0.54,0.56,0.6,0.55,0.5,0.56,
  0.6,0.55,0.58,0.62,0.56,0.6,0.55,0.58,0.54,0.5,0.55,0.52,0.48,0.5,0.55,0.52];
var tepN1 = [0.5,0.52,0.48,0.5,0.53,0.49,0.5,0.47,0.5,0.52,0.5,0.48,0.5,0.51,0.49,0.5,
  0.47,0.5,0.52,0.5,0.53,0.48,0.5,0.52,0.55,0.5,0.47,0.5,0.52,0.49,0.51,0.55,
  0.52,0.5,0.48,0.5,0.47,0.5,0.52,0.5,0.49,0.5,0.52,0.5,0.48,0.51,0.5,0.52,
  0.5,0.49,0.51,0.5,0.47,0.5,0.52,0.5,0.48,0.5,0.53,0.5,0.5,0.52,0.5,0.51];
var tepN3 = [0.55,0.56,0.54,0.55,0.57,0.55,0.54,0.56,0.55,0.58,0.56,0.55,0.57,0.55,0.54,0.56,
  0.55,0.54,0.56,0.55,0.57,0.55,0.58,0.56,0.6,0.57,0.55,0.56,0.55,0.57,0.58,0.6,0.55,
  0.42,0.4,0.43,0.45,0.44,0.46,0.45,0.47,0.46,0.45,0.47,0.46,0.48,0.47,
  0.4,0.38,0.42,0.45,0.48,0.5,0.52,0.51,0.53,0.52,0.54,0.55,0.54,0.56,0.57,0.58,0.6];

var tepShape = [tepA, tepN1, tepN3, tepB, tepP, tepP, tepQ, tepBT, tepN1, tepR,
  tepS, tepBT, tepQ, tepBT, tepT, tepQ, tepN1, tepS, tepF, tepP,
  tepR, tepS, tepP, tepU, tepV, tepZ1, tepX, tepY, tepP, tepU,
  tepV, tepZ1, tepX, tepY, tepT2, tepT2, tepZ1, tepG, tepZ2, tepZ2, tepZ2];
var tepNoise = [0, 0.38, 0.3, 0.12, 0.1, 0.1, 0, 0.22, 0.36, 0,
  0.05, 0.22, 0, 0.22, 0.08, 0, 0.38, 0.05, 0.15, 0.06,
  0, 0.04, 0.06, 0.08, 0.06, 0.15, 0.16, 0.05, 0.06, 0.08,
  0.06, 0.15, 0.16, 0.05, 0.06, 0.12, 0.15, 0.06, 0.13, 0.13, 0.14];

// ---------- layout ----------
var W = 5923, H = 2759;
var RED = "#ff0000", INK = "#262626";
var FONT = "DejaVu Sans, Verdana, sans-serif";
var FS = 69;
var LINE_W = 6, SPINE_W = 5.7, TICK_LEN = 24;

var fredRows = fredSeries.map(function (s, i) {
  var r = Array.isArray(s[0]) ? {p: s} : {v: s, len: fredLength[i]};
  r.w = fredNoise[i];
  return r;
});
var tepRows = tepShape.map(function (s, i) {
  var r = Array.isArray(s[0]) ? {p: s} : {v: s, len: tepLength};
  r.w = tepNoise[i];
  r.smooth = true;
  return r;
});

var panels = [
  {rows: fredRows, xlim: fredXLim, ticks: fredTicks, len: 2484,
   x0: 172, x1: 1920, top: 277.5, h: 156.5, pitch: 188.5,
   titleX: 1005, titleY: [139.5, 224], tickDy: 89.5, labelX: 1029, labelY: 2687},
  {rows: smartRows, xlim: smartXLim, ticks: smartTicks, len: smartLength,
   x0: 2094, x1: 3830, top: 277.5, h: 65.5, pitch: 79.96,
   titleX: 2945, titleY: [152, 235], tickDy: 87, labelX: 2991, labelY: 2685},
  {rows: tepRows, xlim: tepXLim, ticks: tepTicks, len: tepLength,
   x0: 4028, x1: 5757, top: 280, h: 45, pitch: 54.675,
   titleX: 4912, titleY: [153, 236], tickDy: 86, labelX: 4895, labelY: 2691}
];

// the drawing lives in a fixed 5923x2759 coordinate system stretched over the window
var svg = d3.select("#chart")
  .attr("viewBox", "0 0 " + W + " " + H)
  .attr("preserveAspectRatio", "none")
  .attr("font-family", FONT);
svg.append("rect").attr("width", W).attr("height", H).attr("fill", "#fff");
var defs = svg.append("defs");

function outlineText(sel) {
  return sel.attr("font-family", FONT).attr("font-size", FS)
    .attr("fill", "#fff").attr("stroke", "#1a1a1a").attr("stroke-width", 1.7);
}

// turn one row description into drawable lines / filled bands
function build(row, len) {
  var lines = [], areas = [], ys = [];
  var w = row.w || 0;
  var curve = row.smooth ? d3.curveMonotoneX : d3.curveLinear;
  var pts = null;
  if (row.v) {
    var L = row.len || len;
    pts = row.v.map(function (y, i) { return [i * L / (row.v.length - 1), y]; });
  }
  if (row.p) pts = row.p;
  if (pts) {
    if (w > 0) areas.push({pts: pts.map(function (d) { return [d[0], d[1] - w, d[1] + w]; }), curve: curve});
    lines.push({pts: pts, curve: curve});
    pts.forEach(function (d) { ys.push(d[1] - w, d[1] + w); });
  }
  if (row.blocks) {
    row.blocks.forEach(function (b) {
      areas.push({pts: [[b[0], row.lo, row.hi], [b[1], row.lo, row.hi]], curve: d3.curveLinear});
    });
    ys.push(row.lo, row.hi);
  }
  if (row.spikes || row.pulses) {
    var base = row.base || 0, groups = [];
    (row.spikes || []).forEach(function (s) {
      groups.push([[s[0] - 6, base], [s[0], s[1]], [s[0] + 6, base]]);
      ys.push(s[1]);
    });
    (row.pulses || []).forEach(function (s) {
      groups.push([[s[0], base], [s[0], s[2]], [s[1], s[2]], [s[1], base]]);
      ys.push(s[2]);
    });
    groups.sort(function (a, b) { return a[0][0] - b[0][0]; });
    var path = [[0, base]];
    groups.forEach(function (g) { g.forEach(function (d) { path.push(d); }); });
    path.push([len, base]);
    lines.push({pts: path, curve: d3.curveLinear});
    ys.push(base);
  }
  return {lines: lines, areas: areas, ys: ys};
}

panels.forEach(function (P, pi) {
  var x = d3.scaleLinear().domain(P.xlim).range([P.x0, P.x1]);
  var n = P.rows.length;

  // title
  var title = outlineText(svg.append("text")).attr("text-anchor", "middle");
  title.append("tspan").attr("x", P.titleX).attr("y", P.titleY[0]).text("Dataset " + panelNames[pi]);
  title.append("tspan").attr("x", P.titleX).attr("y", P.titleY[1]).text(n + " time series");

  P.rows.forEach(function (row, i) {
    var top = P.top + i * P.pitch, bottom = top + P.h;
    var built = build(row, P.len);
    var ext = d3.extent(built.ys);
    var pad = (ext[1] - ext[0]) * 0.05 || 0.05;
    var y = d3.scaleLinear().domain([ext[0] - pad, ext[1] + pad]).range([bottom, top]);

    var id = "clip-" + pi + "-" + i;
    defs.append("clipPath").attr("id", id).append("rect")
      .attr("x", P.x0).attr("y", top).attr("width", P.x1 - P.x0).attr("height", P.h);

    var g = svg.append("g");
    var plot = g.append("g").attr("clip-path", "url(#" + id + ")");
    built.areas.forEach(function (a) {
      plot.append("path")
        .attr("d", d3.area().x(function (d) { return x(d[0]); })
          .y0(function (d) { return y(d[1]); }).y1(function (d) { return y(d[2]); })
          .curve(a.curve)(a.pts))
        .attr("fill", RED);
    });
    built.lines.forEach(function (l) {
      plot.append("path")
        .attr("d", d3.line().x(function (d) { return x(d[0]); })
          .y(function (d) { return y(d[1]); }).curve(l.curve)(l.pts))
        .attr("fill", "none").attr("stroke", RED).attr("stroke-width", LINE_W)
        .attr("stroke-linejoin", "round").attr("stroke-linecap", "round");
    });

    g.append("rect")
      .attr("x", P.x0).attr("y", top).attr("width", P.x1 - P.x0).attr("height", P.h)
      .attr("fill", "none").attr("stroke", INK).attr("stroke-width", SPINE_W);

    var last = i === n - 1;
    var axis = d3.axisBottom(x).tickValues(P.ticks).tickSize(TICK_LEN)
      .tickFormat(last ? d3.format("d") : function () { return ""; });
    var ax = g.append("g").attr("transform", "translate(0," + bottom + ")").call(axis);
    ax.select(".domain").remove();
    ax.selectAll(".tick line").attr("stroke", INK).attr("stroke-width", SPINE_W);
    if (last) {
      outlineText(ax.selectAll(".tick text")).attr("y", P.tickDy).attr("dy", null);
      ax.attr("font-size", FS).attr("font-family", FONT);
    } else {
      ax.selectAll(".tick text").remove();
    }
  });

  outlineText(svg.append("text")).attr("text-anchor", "middle")
    .attr("x", P.labelX).attr("y", P.labelY).text("Time index");
});
</script>
</body>
</html>
